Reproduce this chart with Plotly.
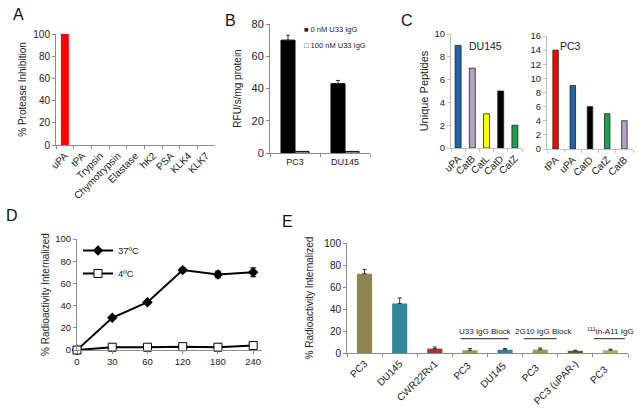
import plotly.graph_objects as go

W, H = 638, 408
FONT = "Liberation Sans, Arial, sans-serif"

# ---------------- data ----------------
a_cats = ["uPA", "tPA", "Trypsin", "Chymotrypsin", "Elastase", "hK2", "PSA", "KLK4", "KLK7"]
a_vals = [100, 0, 0, 0, 0, 0, 0, 0, 0]

b_cats = ["PC3", "DU145"]
b_series = ["0 nM U33 IgG", "100 nM U33 IgG"]
b_ctrl = [70, 43]
b_ctrl_err = [3, 2]
b_block = [1, 1]

c1_cats = ["uPA", "CatB", "CatL", "CatD", "CatZ"]
c1_vals = [9, 7, 3, 5, 2]
c1_cols = ["#1f63a8", "#b3a2c7", "#ffff00", "#000000", "#1e9e4f"]
c2_cats = ["tPA", "uPA", "CatD", "CatZ", "CatB"]
c2_vals = [14, 9, 6, 5, 4]
c2_cols = ["#ff0000", "#1f63a8", "#000000", "#1e9e4f", "#b3a2c7"]

d_times = ["0", "30", "60", "120", "180", "240"]
d_37 = [0, 29, 43, 72, 68, 70]
d_37_err = [0, 1, 1.5, 2, 3, 4]
d_4 = [0, 2.5, 2.5, 3, 2.5, 4]
d_4_err = [0, 0.5, 0.5, 0.5, 0.5, 0.8]

e_cats = ["PC3", "DU145", "CWR22Rv1", "PC3 ", "DU145 ", "PC3  ", "PC3 (uPAR-)", "PC3   "]
e_vals = [72, 45, 4, 2.5, 3, 3, 2, 2.5]
e_err = [4, 5, 1.5, 1.5, 1, 1.5, 0.5, 1]
e_cols = ["#8f8552", "#31859c", "#a5332f", "#86a34a", "#31859c", "#86a34a", "#4f6228", "#9bbb59"]
# label, line start, line end, text centre (category units)
e_groups = [("U33 IgG Block", 2.73, 4.1, 3.44),
            ("2G10 IgG Block", 4.53, 5.47, 5.1),
            ("<sup>111</sup>In-A11 IgG", 6.53, 7.41, 6.99)]


def xd(a, b):
    return [a / W, b / W]


def yd(top, bottom):
    return [1 - bottom / H, 1 - top / H]


fig = go.Figure()

# A
fig.add_trace(go.Bar(x=a_cats, y=a_vals, marker=dict(color="#ff0000", line=dict(width=0)),
                     width=0.45, xaxis="x", yaxis="y", showlegend=False))
# B
fig.add_trace(go.Bar(x=b_cats, y=b_ctrl, name=b_series[0], offset=-0.28, width=0.28, showlegend=False,
                     marker=dict(color="#000000", line=dict(color="#000000", width=1)),
                     error_y=dict(type="data", array=b_ctrl_err, arrayminus=[0, 0], symmetric=False,
                                  color="#333333", thickness=1, width=2),
                     xaxis="x2", yaxis="y2"))
fig.add_trace(go.Bar(x=b_cats, y=b_block, name=b_series[1], offset=0, width=0.28, showlegend=False,
                     marker=dict(color="#ffffff", line=dict(color="#000000", width=1)),
                     xaxis="x2", yaxis="y2"))
# C
fig.add_trace(go.Bar(x=c1_cats, y=c1_vals, width=0.42,
                     marker=dict(color=c1_cols, line=dict(color="#222222", width=0.8)),
                     xaxis="x3", yaxis="y3", showlegend=False))
fig.add_trace(go.Bar(x=c2_cats, y=c2_vals, width=0.32,
                     marker=dict(color=c2_cols, line=dict(color="#222222", width=0.8)),
                     xaxis="x4", yaxis="y4", showlegend=False))
# D
d_idx = list(range(len(d_times)))
fig.add_trace(go.Scatter(x=d_idx, y=d_37, name="37ºC", mode="lines+markers",
                         line=dict(color="#000000", width=2),
                         marker=dict(symbol="diamond", size=8, color="#000000"),
                         error_y=dict(type="data", array=d_37_err, color="#000000", thickness=1, width=3),
                         cliponaxis=False, xaxis="x5", yaxis="y5", legendgroup="a"))
fig.add_trace(go.Scatter(x=d_idx, y=d_4, name="4ºC", mode="lines+markers",
                         line=dict(color="#000000", width=2),
                         marker=dict(symbol="square", size=8, color="#ffffff",
                                     line=dict(color="#000000", width=1)),
                         error_y=dict(type="data", array=d_4_err, color="#000000", thickness=1, width=3),
                         cliponaxis=False, xaxis="x5", yaxis="y5", legendgroup="b"))
# E
fig.add_trace(go.Bar(x=e_cats, y=e_vals, width=0.43,
                     marker=dict(color=e_cols, line=dict(width=0)),
                     error_y=dict(type="data", array=e_err, arrayminus=[0] * len(e_err), symmetric=False,
                                  color="#333333", thickness=1, width=2),
                     xaxis="x6", yaxis="y6", showlegend=False))

axline = dict(showline=True, linecolor="#8c8c8c", linewidth=1, showgrid=False, zeroline=False,
              automargin=False, ticks="outside", ticklen=3, tickcolor="#8c8c8c",
              tickfont=dict(size=9.5, color="#222222"))


def xax(dom, anchor, **kw):
    d = dict(axline)
    d.update(domain=dom, anchor=anchor)
    d.update(kw)
    return d


def yax(dom, anchor, rng, dtick, title=None, tsize=10, standoff=8, **kw):
    d = dict(axline)
    d.update(domain=dom, anchor=anchor, range=rng, dtick=dtick, tickfont=dict(size=9.5, color="#222222"))
    if title:
        d["title"] = dict(text=title, font=dict(size=tsize, color="#222222"), standoff=standoff)
    d.update(kw)
    return d


fig.update_layout(
    width=W, height=H, margin=dict(l=0, r=0, t=0, b=0, autoexpand=False),
    paper_bgcolor="white", plot_bgcolor="white",
    font=dict(family=FONT, color="#222222"),
    barmode="group",
    xaxis=xax(xd(56, 215), "y", type="category", tickangle=-45, tickson="boundaries",
              range=[-0.5, 8.5], tickfont=dict(size=10, color="#222222")),
    yaxis=yax(yd(34, 145), "x", [0, 100], 20, "% Protease Inhibition", standoff=4,
              tickfont=dict(size=10, color="#222222")),
    xaxis2=xax(xd(270, 370), "y2", type="category", tickson="boundaries", range=[-0.5, 1.5],
               tickfont=dict(size=9, color="#222222")),
    yaxis2=yax(yd(24, 153), "x2", [0, 80], 20, "RFU/s/mg protein", standoff=8,
               tickfont=dict(size=11, color="#222222")),
    xaxis3=xax(xd(451, 522), "y3", type="category", tickangle=-45, tickson="boundaries",
               range=[-0.5, 4.5], linecolor="#bfbfbf", tickcolor="#bfbfbf",
               tickfont=dict(size=10, color="#222222")),
    yaxis3=yax(yd(34, 148), "x3", [0, 10], 2, "Unique Peptides", tsize=11, standoff=3,
               linecolor="#bfbfbf", tickcolor="#bfbfbf"),
    xaxis4=xax(xd(547, 633), "y4", type="category", tickangle=-45, tickson="boundaries",
               range=[-0.5, 4.5], linecolor="#bfbfbf", tickcolor="#bfbfbf",
               tickfont=dict(size=10, color="#222222")),
    yaxis4=yax(yd(36, 149), "x4", [0, 16], 2, None, linecolor="#bfbfbf", tickcolor="#bfbfbf"),
    xaxis5=xax(xd(77, 262), "y5", range=[0, 5.25], tickmode="array", tickvals=d_idx, ticktext=d_times),
    yaxis5=yax(yd(239, 350), "x5", [0, 100], 20, "% Radioactivity Internalized", standoff=3),
    xaxis6=xax(xd(347, 628), "y6", type="category", tickangle=-45, tickson="boundaries",
               range=[-0.5, 7.5], tickfont=dict(size=10, color="#222222")),
    yaxis6=yax(yd(243, 353), "x6", [0, 100], 20, "% Radioactivity Internalized", standoff=8,
               tickfont=dict(size=10, color="#222222")),
    showlegend=True,
    legend=dict(x=78 / W, y=1 - 236 / H, xanchor="left", yanchor="top", bgcolor="rgba(0,0,0,0)",
                font=dict(size=9.5, color="#222222"), itemwidth=30, traceorder="grouped",
                tracegroupgap=4),
)

# panel B legend (Excel-style compact key)
for i, (sym, name) in enumerate(zip(["■", "□"], b_series)):
    fig.add_annotation(text=f"{sym} {name}", x=302 / W, y=1 - (30 + 15 * i) / H, xref="paper",
                       yref="paper", xanchor="left", yanchor="middle", showarrow=False,
                       font=dict(size=7.5, color="#222222"))

# panel letters
for txt, px, py in [("A", 18, 15), ("B", 230, 20), ("C", 407, 20), ("D", 12, 215), ("E", 287, 222)]:
    fig.add_annotation(text=txt, x=px / W, y=1 - py / H, xref="paper", yref="paper",
                       xanchor="center", yanchor="middle",
                       showarrow=False, font=dict(size=16, color="#111111"))

# panel C subtitles
fig.add_annotation(text="DU145", x=485 / W, y=1 - 38 / H, xref="paper", yref="paper",
                   xanchor="center", showarrow=False, font=dict(size=10.5))
fig.add_annotation(text="PC3", x=570 / W, y=1 - 38 / H, xref="paper", yref="paper",
                   xanchor="center", showarrow=False, font=dict(size=10.5))

# panel E group labels
for label, lo, hi, mid in e_groups:
    fig.add_shape(type="line", x0=lo, x1=hi, y0=13, y1=13, xref="x6", yref="y6",
                  line=dict(color="#222222", width=1))
    fig.add_annotation(text=label, x=mid, y=13, xref="x6", yref="y6", yanchor="bottom",
                       yshift=1, showarrow=False, font=dict(size=8))

fig.write_html("out.html", config={"displayModeBar": False},
               post_script="document.body.style.margin='0px';")
